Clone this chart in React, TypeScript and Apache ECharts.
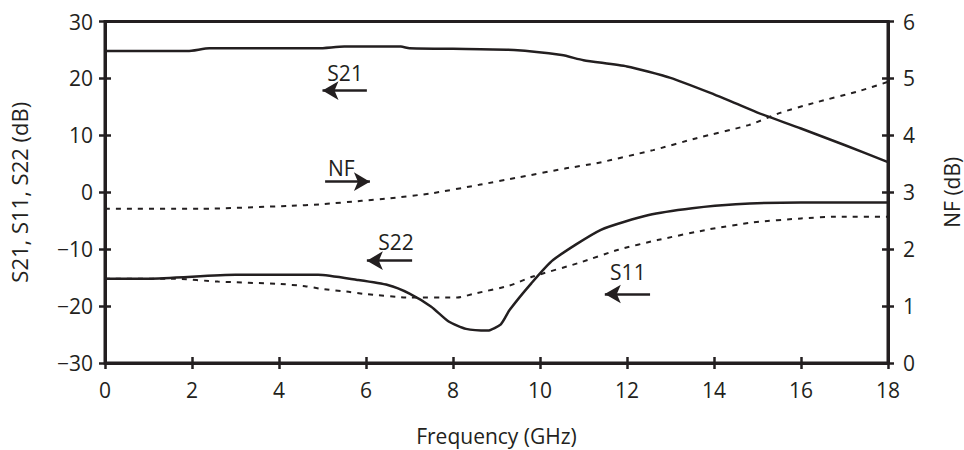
import React, { useEffect, useRef } from "react";
import * as echarts from "echarts";

// Frequency (GHz) / value pairs for each trace
const S21_FREQ = [0, 1.9, 2.4, 4.9, 5.5, 6.8, 7.0, 8.0, 9.4, 10.5, 11.0, 12.0, 13.0, 14.0, 14.5, 15.0, 16.0, 17.0, 18.0];
const S21_DB = [24.8, 24.8, 25.3, 25.3, 25.6, 25.6, 25.3, 25.2, 25.0, 24.1, 23.2, 22.1, 20.1, 17.2, 15.6, 14.0, 11.2, 8.3, 5.3];

const S22_FREQ = [0, 1.0, 3.0, 4.9, 5.8, 6.5, 7.0, 7.5, 7.9, 8.3, 8.8, 9.1, 9.3, 9.8, 10.3, 11.4, 12.5, 13.5, 14.5, 16.0, 18.0];
const S22_DB = [-15.2, -15.2, -14.5, -14.5, -15.4, -16.3, -17.8, -20.1, -22.7, -24.0, -24.3, -23.2, -20.7, -16.0, -11.9, -6.6, -4.0, -2.8, -2.1, -1.8, -1.8];

const S11_FREQ = [0, 1.6, 2.6, 4.0, 4.6, 5.0, 5.6, 6.0, 7.0, 8.1, 8.5, 9.3, 9.8, 10.9, 11.8, 12.7, 13.9, 14.9, 16.0, 16.8, 18.0];
const S11_DB = [-15.2, -15.2, -15.7, -16.1, -16.5, -17.0, -17.5, -17.9, -18.5, -18.5, -17.8, -16.4, -14.9, -12.4, -10.1, -8.4, -6.5, -5.3, -4.6, -4.3, -4.3];

const NF_FREQ = [0, 2.2, 4.2, 5.0, 5.9, 6.5, 7.5, 8.6, 9.5, 10.6, 11.3, 12.6, 13.6, 14.8, 15.5, 16.3, 17.3, 18.0];
const NF_DB = [2.71, 2.71, 2.76, 2.79, 2.85, 2.89, 2.98, 3.13, 3.26, 3.42, 3.51, 3.74, 3.95, 4.18, 4.39, 4.57, 4.77, 4.94];

// Axis ranges: [min, max, interval]
const FREQ_TICKS = [0, 18, 2];
const S_TICKS = [-30, 30, 10];
const NF_TICKS = [0, 6, 1];

// Trace labels with their arrows, in data coordinates of the left axis
// [label, labelFreq, labelDb, arrowTailFreq, arrowHeadFreq, arrowDb]
const ANNOTATIONS: [string, number, number, number, number, number][] = [
  ["S21", 5.52, 21.0, 6.02, 5.0, 17.86],
  ["NF", 5.43, 4.3, 5.06, 6.09, 1.86],
  ["S22", 6.69, -8.8, 7.06, 6.02, -12.02],
  ["S11", 12.02, -14.0, 12.53, 11.49, -17.87],
];

const INK = "#231f20";
const FONT = "'Open Sans', sans-serif";

const pairs = (xs: number[], ys: number[]) => xs.map((x, i) => [x, ys[i]]);
const minus = (v: number) => String(v).replace("-", "\u2212");

export default function App() {
  const ref = useRef<HTMLDivElement>(null);

  useEffect(() => {
    if (!ref.current) return;
    const chart = echarts.init(ref.current, undefined, { renderer: "svg" });

    const label = { color: INK, fontFamily: FONT, fontSize: 21 };
    const nameStyle = { color: INK, fontFamily: FONT, fontSize: 21 };
    const axisLine = { show: true, onZero: false, lineStyle: { color: INK, width: 3 } };

    const xBase = { type: "value", min: FREQ_TICKS[0], max: FREQ_TICKS[1], interval: FREQ_TICKS[2], splitLine: { show: false } };
    const sBase = { type: "value", min: S_TICKS[0], max: S_TICKS[1], interval: S_TICKS[2], splitLine: { show: false } };
    const nfBase = { type: "value", min: NF_TICKS[0], max: NF_TICKS[1], interval: NF_TICKS[2], splitLine: { show: false } };
    const tick = (inside: boolean) => ({ show: true, inside, length: 6, lineStyle: { color: INK, width: 2.5 } });
    const hidden = { axisLine: { show: false, onZero: false }, axisLabel: { show: false } };

    const arrowSeries = ANNOTATIONS.map(([name, lx, ly, tx, hx, ay]) => ({
      type: "line",
      data: [],
      silent: true,
      markLine: {
        silent: true,
        symbol: ["none", "arrow"],
        symbolSize: [14, 16],
        label: { show: false },
        lineStyle: { color: INK, width: 2.5, type: "solid" },
        emphasis: { disabled: true },
        data: [[{ coord: [tx, ay] }, { coord: [hx, ay] }]],
      },
      markPoint: {
        silent: true,
        symbol: "circle",
        symbolSize: 0,
        data: [{ coord: [lx, ly], value: name }],
        label: { show: true, position: "inside", formatter: name, ...label },
      },
    }));

    const trace = (name: string, xs: number[], ys: number[], dashed: boolean, yAxisIndex = 0) => ({
      name,
      type: "line",
      yAxisIndex,
      data: pairs(xs, ys),
      showSymbol: false,
      smooth: 0.2,
      lineStyle: dashed ? { color: INK, width: 2, type: [5, 6] } : { color: INK, width: 2.5 },
    });

    chart.setOption({
      animation: false,
      grid: {
        left: 105,
        right: 76,
        top: 21.5,
        bottom: 87,
        outerBoundsMode: "none",
        show: true,
        borderColor: INK,
        borderWidth: 3,
        backgroundColor: "transparent",
      },
      xAxis: [
        {
          ...xBase,
          position: "bottom",
          name: "Frequency (GHz)",
          nameLocation: "middle",
          nameGap: 62,
          nameTextStyle: nameStyle,
          axisLine,
          axisTick: tick(false),
          axisLabel: { ...label, margin: 16 },
        },
        { ...xBase, position: "bottom", axisTick: tick(true), ...hidden },
      ],
      yAxis: [
        {
          ...sBase,
          position: "left",
          name: "S21, S11, S22 (dB)",
          nameLocation: "middle",
          nameGap: 75,
          nameTextStyle: { ...nameStyle, fontSize: 22 },
          axisLine,
          axisTick: tick(false),
          axisLabel: { ...label, margin: 12, formatter: minus },
        },
        {
          ...nfBase,
          position: "right",
          name: "NF (dB)",
          nameLocation: "middle",
          nameGap: 53,
          nameTextStyle: nameStyle,
          axisLine,
          axisTick: tick(false),
          axisLabel: { ...label, margin: 15 },
        },
        { ...sBase, position: "left", axisTick: tick(true), ...hidden },
        { ...nfBase, position: "right", axisTick: tick(true), ...hidden },
      ],
      series: [
        trace("S21", S21_FREQ, S21_DB, false),
        trace("S22", S22_FREQ, S22_DB, false),
        trace("S11", S11_FREQ, S11_DB, true),
        trace("NF", NF_FREQ, NF_DB, true, 1),
        ...arrowSeries,
      ],
    });

    return () => chart.dispose();
  }, []);

  return (
    <div
      ref={ref}
      style={{ position: "absolute", left: 0, top: 0, width: 964, height: 450 }}
    />
  );
}
